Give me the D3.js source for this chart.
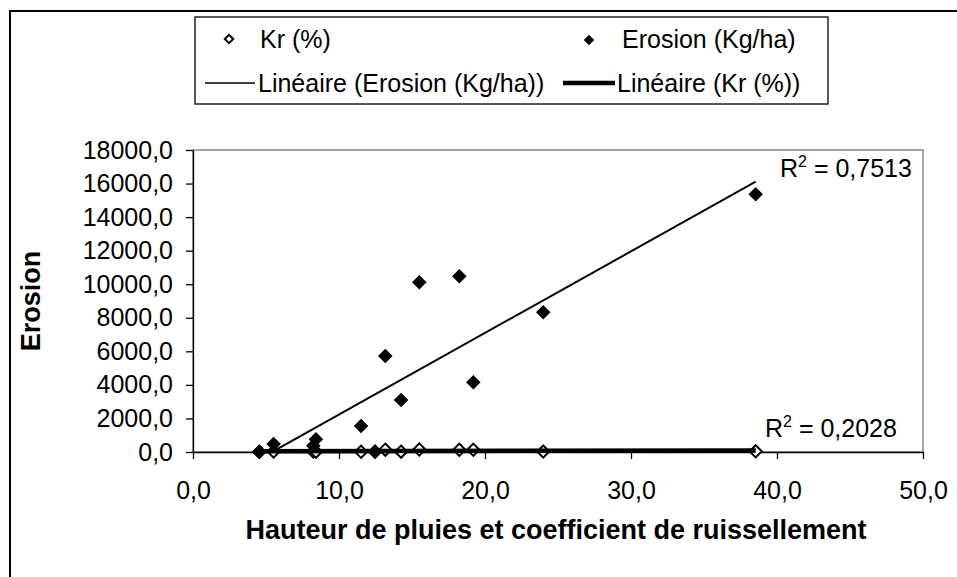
<!DOCTYPE html>
<html>
<head>
<meta charset="utf-8">
<style>
  body { margin: 0; background: #fff; }
  text { font-family: "Liberation Sans", Arial, sans-serif; fill: #000; }
</style>
</head>
<body>
<script src="https://cdn.jsdelivr.net/npm/d3@7"></script>
<script>
// dimensions
var width = 957, height = 577;
var plot = { left: 193, right: 923, top: 150, bottom: 452 };

// data
var pluie   = [4.54, 5.52, 8.24, 8.42, 11.51, 12.47, 13.17, 14.25, 15.5, 18.24, 19.2, 23.99, 38.54];
var erosion = [0, 480, 375, 757, 1550, 0, 5722, 3100, 10113, 10470, 4154, 8326, 15360];
var kr      = [20, 25, 30, 20, 15, 30, 140, 20, 150, 135, 135, 25, 40];
// erosion trend line ignores the first (empty) point
var erosionTrendFrom = 1;

var xTicks = [0, 10, 20, 30, 40, 50];
var yTicks = [0, 2000, 4000, 6000, 8000, 10000, 12000, 14000, 16000, 18000];
var r2Erosion = "0,7513";
var r2Kr = "0,2028";
var legendLabels = ["Kr (%)", "Erosion (Kg/ha)", "Linéaire (Erosion (Kg/ha))", "Linéaire (Kr (%))"];

var svg = d3.select('body').append('svg')
  .attr('width', width).attr('height', height);

// outer chart border
svg.append('rect')
  .attr('x', 10).attr('y', 11).attr('width', 960).attr('height', 580)
  .attr('fill', 'none').attr('stroke', '#000').attr('stroke-width', 2);

var x = d3.scaleLinear().domain([0, 50]).range([plot.left, plot.right]);
var y = d3.scaleLinear().domain([0, 18000]).range([plot.bottom, plot.top]);
var fmt = function(d) { return d3.format('.1f')(d).replace('.', ','); };

// plot area border (grey)
svg.append('rect')
  .attr('x', plot.left).attr('y', plot.top)
  .attr('width', plot.right - plot.left).attr('height', plot.bottom - plot.top)
  .attr('fill', 'none').attr('stroke', '#888').attr('stroke-width', 1.5);

svg.append('g')
  .attr('transform', 'translate(0,' + plot.bottom + ')')
  .call(d3.axisBottom(x).tickValues(xTicks).tickFormat(fmt).tickSize(7).tickSizeOuter(0).tickPadding(22));
svg.append('g')
  .attr('transform', 'translate(' + plot.left + ',0)')
  .call(d3.axisLeft(y).tickValues(yTicks).tickFormat(fmt).tickSize(7).tickSizeOuter(0).tickPadding(13));

svg.selectAll('.domain, .tick line').attr('stroke', '#000').attr('stroke-width', 1.3);
svg.selectAll('.tick text').style('font-size', '25px').style('font-family', '"Liberation Sans", Arial, sans-serif');

// axis titles
svg.append('text')
  .attr('x', (plot.left + plot.right) / 2 - 2).attr('y', 539)
  .attr('text-anchor', 'middle').style('font-size', '27px').style('font-weight', 'bold')
  .text('Hauteur de pluies et coefficient de ruissellement');
svg.append('text')
  .attr('transform', 'translate(40,' + ((plot.top + plot.bottom) / 2) + ') rotate(-90)')
  .attr('text-anchor', 'middle').style('font-size', '27px').style('font-weight', 'bold')
  .text('Erosion');

// linear regression
function fit(xs, ys) {
  var mx = d3.mean(xs), my = d3.mean(ys), sxy = 0, sxx = 0;
  xs.forEach(function(v, i) { sxy += (v - mx) * (ys[i] - my); sxx += (v - mx) * (v - mx); });
  var b = sxy / sxx, a = my - b * mx;
  var x0 = d3.min(xs), x1 = d3.max(xs);
  return [[x0, a + b * x0], [x1, a + b * x1]];
}
var line = d3.line().x(function(d) { return x(d[0]); }).y(function(d) { return y(d[1]); });

svg.append('path')
  .attr('d', line(fit(pluie.slice(erosionTrendFrom), erosion.slice(erosionTrendFrom))))
  .attr('fill', 'none').attr('stroke', '#000').attr('stroke-width', 2);

var diamond = d3.symbol().type(d3.symbolDiamond2);

// Kr points (open diamonds)
svg.append('g').selectAll('path').data(pluie).enter().append('path')
  .attr('d', diamond.size(95)())
  .attr('transform', function(d, i) { return 'translate(' + x(d) + ',' + y(kr[i]) + ')'; })
  .attr('fill', '#fff').attr('stroke', '#000').attr('stroke-width', 2);

// Kr trend line (thick)
svg.append('path')
  .attr('d', line(fit(pluie, kr)))
  .attr('fill', 'none').attr('stroke', '#000').attr('stroke-width', 4.5);

// Erosion points (filled diamonds)
svg.append('g').selectAll('path').data(pluie).enter().append('path')
  .attr('d', diamond.size(135)())
  .attr('transform', function(d, i) { return 'translate(' + x(d) + ',' + y(erosion[i]) + ')'; })
  .attr('fill', '#000');

// R² labels
function r2Label(xp, yp, val) {
  var t = svg.append('text').attr('x', xp).attr('y', yp).style('font-size', '25px');
  t.append('tspan').text('R');
  t.append('tspan').attr('dy', -10).style('font-size', '16px').text('2');
  t.append('tspan').attr('dy', 10).text(' = ' + val);
}
r2Label(780, 177, r2Erosion);
r2Label(765, 437, r2Kr);

// legend
var lg = svg.append('g');
lg.append('rect').attr('x', 195).attr('y', 17).attr('width', 633).attr('height', 87)
  .attr('fill', '#fff').attr('stroke', '#000').attr('stroke-width', 1.3);

lg.append('path').attr('d', diamond.size(45)())
  .attr('transform', 'translate(229,39)')
  .attr('fill', '#fff').attr('stroke', '#000').attr('stroke-width', 2);
lg.append('text').attr('x', 260).attr('y', 48).style('font-size', '25px').text(legendLabels[0]);

lg.append('path').attr('d', diamond.size(70)())
  .attr('transform', 'translate(589,40)').attr('fill', '#000');
lg.append('text').attr('x', 622).attr('y', 48).style('font-size', '25px').text(legendLabels[1]);

lg.append('line').attr('x1', 205).attr('x2', 255).attr('y1', 83).attr('y2', 83)
  .attr('stroke', '#000').attr('stroke-width', 1.5);
lg.append('text').attr('x', 258).attr('y', 92).style('font-size', '25px').text(legendLabels[2]);

lg.append('line').attr('x1', 563).attr('x2', 615).attr('y1', 83).attr('y2', 83)
  .attr('stroke', '#000').attr('stroke-width', 4.5);
lg.append('text').attr('x', 617).attr('y', 92).style('font-size', '25px').text(legendLabels[3]);
</script>
</body>
</html>
